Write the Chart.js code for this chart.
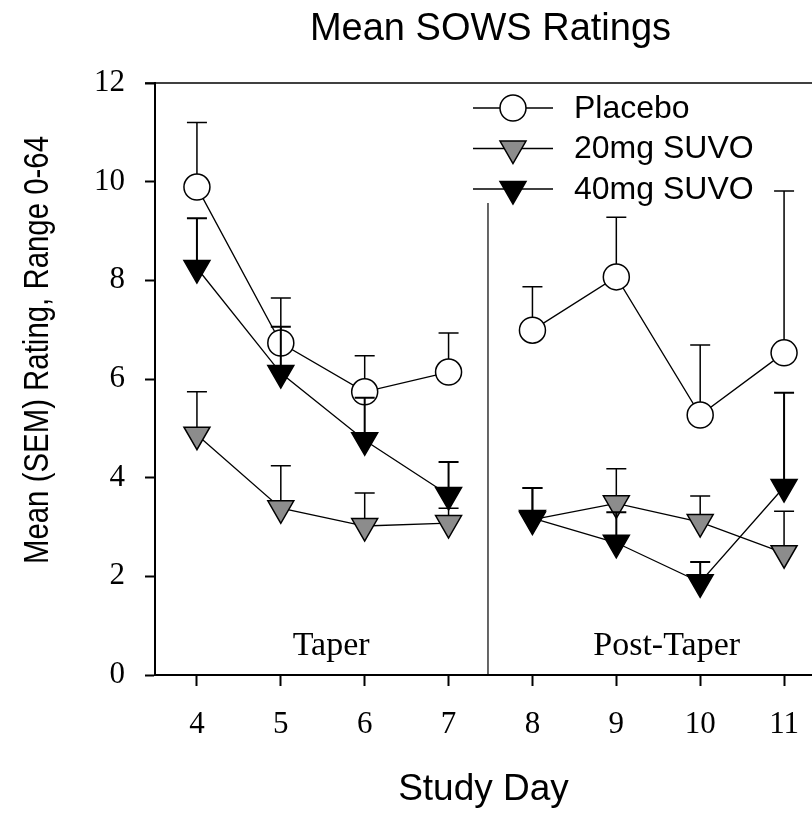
<!DOCTYPE html>
<html>
<head>
<meta charset="utf-8">
<title>Mean SOWS Ratings</title>
<script src="https://cdn.jsdelivr.net/npm/chart.js@4.4.1/dist/chart.umd.min.js"></script>
<style>
  html, body { margin: 0; padding: 0; background: #fff; overflow: hidden; }
  #wrap { width: 812px; height: 815px; }
</style>
</head>
<body>
<div id="wrap"><canvas id="sowsChart" width="812" height="815"></canvas></div>
<script>
// values (mean and upper SEM per study day)
const studyDays = [4, 5, 6, 7, 8, 9, 10, 11];
const seriesNames = ['Placebo', '20mg SUVO', '40mg SUVO'];
const placeboMean = [9.89, 6.73, 5.74, 6.14, 6.99, 8.07, 5.27, 6.53];
const placeboSem  = [1.31, 0.91, 0.73, 0.79, 0.88, 1.21, 1.42, 3.28];
const suvo20Mean  = [4.87, 3.38, 3.02, 3.08, 3.15, 3.48, 3.10, 2.47];
const suvo20Sem   = [0.87, 0.86, 0.67, 0.30, 0.64, 0.70, 0.53, 0.85];
const suvo40Mean  = [8.25, 6.12, 4.76, 3.65, 3.18, 2.68, 1.88, 3.81];
const suvo40Sem   = [1.01, 0.94, 0.86, 0.67, 0.61, 0.62, 0.41, 1.91];
const yTicks = [0, 2, 4, 6, 8, 10, 12];

// taper / post-taper split
const phaseLabels = ['Taper', 'Post-Taper'];
const phaseCenters = [5.6, 9.6];
const phaseBreak = 7.47;
const phaseBreakTop = 9.57;

const serif = "'Liberation Serif', 'Times New Roman', serif";
const sans = "'Liberation Sans', Arial, sans-serif";
const gray = '#8c8c8c';

// lines break between day 7 and day 8
function toPoints(values) {
    const pts = [];
    studyDays.forEach(function (d, i) {
        if (d === 8) pts.push({ x: phaseBreak, y: null });
        pts.push({ x: d, y: values[i] });
    });
    return pts;
}

function drawMarker(ctx, style, x, y, r, fill) {
    ctx.beginPath();
    if (style === 'circle') {
        ctx.arc(x, y, r, 0, Math.PI * 2);
    } else {
        // downward triangle, same shape as chart.js triangle rotated 180
        ctx.moveTo(x, y + r);
        ctx.lineTo(x - r * Math.sin(Math.PI / 3), y - r / 2);
        ctx.lineTo(x + r * Math.sin(Math.PI / 3), y - r / 2);
        ctx.closePath();
    }
    ctx.fillStyle = fill;
    ctx.fill();
    ctx.lineWidth = 1.5;
    ctx.strokeStyle = '#000';
    ctx.stroke();
}

// upward-only error bars, drawn just under each dataset's markers
const errorBars = {
    id: 'errorBars',
    beforeDatasetDraw(chart, args) {
        const ds = chart.data.datasets[args.index];
        const xs = chart.scales.x, ys = chart.scales.y;
        const ctx = chart.ctx;
        ctx.save();
        ctx.strokeStyle = '#000';
        ctx.lineWidth = ds.errorWidth;
        studyDays.forEach(function (d, i) {
            const px = xs.getPixelForValue(d);
            const y0 = ys.getPixelForValue(ds.means[i]);
            const y1 = ys.getPixelForValue(ds.means[i] + ds.sem[i]);
            ctx.beginPath();
            ctx.moveTo(px, y0);
            ctx.lineTo(px, y1);
            ctx.moveTo(px - 10, y1);
            ctx.lineTo(px + 10, y1);
            ctx.stroke();
        });
        ctx.restore();
    }
};

// frame top, phase split, labels, legend and titles
const decorations = {
    id: 'decorations',
    beforeDatasetsDraw(chart) {
        const ctx = chart.ctx;
        const area = chart.chartArea;
        const xs = chart.scales.x, ys = chart.scales.y;
        ctx.save();
        ctx.strokeStyle = '#000';
        ctx.lineWidth = 1.5;
        ctx.beginPath();
        ctx.moveTo(area.left - 10, area.top);
        ctx.lineTo(area.right, area.top);
        ctx.stroke();

        ctx.lineWidth = 1.2;
        ctx.beginPath();
        ctx.moveTo(xs.getPixelForValue(phaseBreak), ys.getPixelForValue(0));
        ctx.lineTo(xs.getPixelForValue(phaseBreak), ys.getPixelForValue(phaseBreakTop));
        ctx.stroke();

        ctx.fillStyle = '#000';
        ctx.font = '34px ' + serif;
        ctx.textAlign = 'center';
        ctx.textBaseline = 'alphabetic';
        phaseLabels.forEach(function (t, i) {
            ctx.fillText(t, xs.getPixelForValue(phaseCenters[i]), ys.getPixelForValue(0.4));
        });
        ctx.restore();
    },
    afterDraw(chart) {
        const ctx = chart.ctx;
        const area = chart.chartArea;
        const xs = chart.scales.x;
        ctx.save();

        // legend
        const lx = area.left + 318;
        chart.data.datasets.forEach(function (ds, i) {
            const ly = area.top + 25 + i * 40.5;
            ctx.strokeStyle = '#000';
            ctx.lineWidth = 1.3;
            ctx.beginPath();
            ctx.moveTo(lx, ly);
            ctx.lineTo(lx + 80, ly);
            ctx.stroke();
            drawMarker(ctx, ds.pointStyle, lx + 40, ly, ds.pointRadius, ds.pointBackgroundColor);
            ctx.fillStyle = '#000';
            ctx.font = '32px ' + sans;
            ctx.textAlign = 'left';
            ctx.textBaseline = 'middle';
            ctx.fillText(ds.label, lx + 101, ly + 1);
        });

        // main title, centred over the full (cropped) plot frame
        ctx.fillStyle = '#000';
        ctx.font = '38px ' + sans;
        ctx.textAlign = 'center';
        ctx.textBaseline = 'middle';
        ctx.fillText('Mean SOWS Ratings', (area.left + xs.getPixelForValue(11.5)) / 2, 30);

        // y axis title, condensed like the original
        ctx.translate(38, 350);
        ctx.rotate(-Math.PI / 2);
        ctx.scale(0.84, 1);
        ctx.font = '35px ' + sans;
        ctx.fillText('Mean (SEM) Rating, Range 0-64', 0, 0);
        ctx.restore();
    }
};

document.addEventListener('DOMContentLoaded', function () {
    const ctx = document.getElementById('sowsChart').getContext('2d');

    new Chart(ctx, {
        type: 'line',
        data: {
            datasets: [{
                label: seriesNames[0],
                data: toPoints(placeboMean),
                means: placeboMean,
                sem: placeboSem,
                errorWidth: 1.5,
                borderColor: '#000',
                borderWidth: 1.3,
                pointStyle: 'circle',
                pointRadius: 13,
                pointBackgroundColor: '#fff',
                pointBorderColor: '#000',
                pointBorderWidth: 1.5,
                order: 3
            }, {
                label: seriesNames[1],
                data: toPoints(suvo20Mean),
                means: suvo20Mean,
                sem: suvo20Sem,
                errorWidth: 1.5,
                borderColor: '#000',
                borderWidth: 1.3,
                pointStyle: 'triangle',
                pointRotation: 180,
                pointRadius: 15,
                pointBackgroundColor: gray,
                pointBorderColor: '#000',
                pointBorderWidth: 1.5,
                order: 2
            }, {
                label: seriesNames[2],
                data: toPoints(suvo40Mean),
                means: suvo40Mean,
                sem: suvo40Sem,
                errorWidth: 2,
                borderColor: '#000',
                borderWidth: 1.3,
                pointStyle: 'triangle',
                pointRotation: 180,
                pointRadius: 15,
                pointBackgroundColor: '#000',
                pointBorderColor: '#000',
                pointBorderWidth: 1.5,
                order: 1
            }]
        },
        options: {
            responsive: false,
            animation: false,
            events: [],
            spanGaps: false,
            layout: { autoPadding: false, padding: { top: 83, right: 0, bottom: 0, left: 0 } },
            plugins: {
                legend: { display: false },
                title: { display: false },
                tooltip: { enabled: false }
            },
            scales: {
                x: {
                    type: 'linear',
                    min: 3.5,
                    max: 11.333,
                    afterBuildTicks: function (s) { s.ticks = studyDays.map(function (v) { return { value: v }; }); },
                    afterFit: function (s) { s.height = 140; s.paddingLeft = 0; s.paddingRight = 0; },
                    grid: { drawOnChartArea: false, tickLength: 11, tickWidth: 2, tickColor: '#000' },
                    border: { color: '#000', width: 2 },
                    ticks: { color: '#000', font: { family: serif, size: 31 }, padding: 20, maxRotation: 0, autoSkip: false },
                    title: { display: true, text: 'Study Day', color: '#000', font: { family: sans, size: 37 }, padding: { top: 0, bottom: 3 } }
                },
                y: {
                    min: 0,
                    max: 12,
                    afterBuildTicks: function (s) { s.ticks = yTicks.map(function (v) { return { value: v }; }); },
                    afterFit: function (s) { s.width = 155; },
                    grid: { drawOnChartArea: false, tickLength: 10, tickWidth: 2, tickColor: '#000' },
                    border: { color: '#000', width: 2 },
                    ticks: { color: '#000', font: { family: serif, size: 31 }, padding: 20 }
                }
            }
        },
        plugins: [errorBars, decorations]
    });
});
</script>
</body>
</html>
